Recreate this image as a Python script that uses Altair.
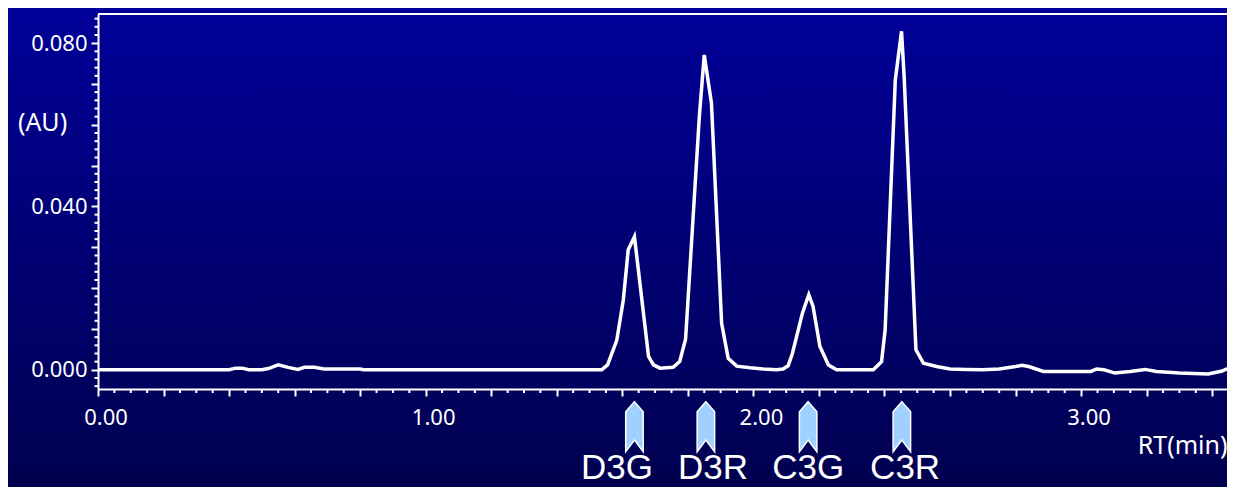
import altair as alt
import pandas as pd

# ---- data ----
rt = [0.00, 0.40, 0.42, 0.44, 0.46, 0.50, 0.52, 0.55, 0.58, 0.61, 0.63, 0.66, 0.69, 0.80, 0.81,
      1.537, 1.555, 1.583, 1.603, 1.618, 1.637, 1.680, 1.695, 1.715, 1.755, 1.775, 1.793,
      1.835, 1.850, 1.872, 1.903, 1.923, 1.949, 1.990, 2.030, 2.070, 2.090, 2.106, 2.119,
      2.150, 2.169, 2.182, 2.203, 2.229, 2.254, 2.366, 2.391, 2.402, 2.433, 2.452, 2.460,
      2.496, 2.519, 2.559, 2.600, 2.650, 2.700, 2.750, 2.800, 2.819, 2.840, 2.885, 3.030,
      3.047, 3.070, 3.103, 3.150, 3.195, 3.230, 3.300, 3.388, 3.430, 3.444, 3.470]
au = [0.0, 0.0, 0.0004, 0.0004, 0.0, 0.0, 0.0003, 0.0012, 0.0006, 0.0001, 0.0006, 0.0006, 0.0002, 0.0002, 0.0,
      0.0, 0.0012, 0.0072, 0.0171, 0.0294, 0.0326, 0.0033, 0.0012, 0.0004, 0.0006, 0.0020, 0.0075,
      0.0620, 0.0771, 0.0653, 0.0114, 0.0028, 0.0009, 0.0005, 0.0002, 0.0, 0.0002, 0.0010, 0.0040,
      0.0140, 0.0184, 0.0155, 0.0057, 0.0012, 0.0, 0.0, 0.0020, 0.0098, 0.0710, 0.0829, 0.0718,
      0.0049, 0.0016, 0.0008, 0.0002, 0.0001, 0.0, 0.0002, 0.0008, 0.0011, 0.0008, -0.0004, -0.0004,
      0.0002, 0.0, -0.0008, -0.0004, 0.0001, -0.0004, -0.0008, -0.0010, -0.0003, 0.0002, 0.0]

peak_names = ["D3G", "D3R", "C3G", "C3R"]
peak_rt = [1.637, 1.855, 2.167, 2.453]
label_rt = [1.584, 1.877, 2.167, 2.463]

x_domain = [0.0, 3.4452]
y_domain = [-0.0047, 0.08714]
x_major = [0.0, 0.2, 0.4, 0.6, 0.8, 1.0, 1.2, 1.4, 1.6, 1.8, 2.0, 2.2, 2.4, 2.6, 2.8, 3.0, 3.2, 3.4]
x_labels = [0.0, 1.0, 2.0, 3.0]
x_label_text = ["0.00", "1.00", "2.00", "3.00"]
x_minor = [i * 0.05 for i in range(69) if i % 4 != 0]
y_major = [0.0, 0.01, 0.02, 0.03, 0.04, 0.05, 0.06, 0.07, 0.08]
y_minor = [i * 0.002 for i in range(-2, 44) if i % 5 != 0]

W, H = 1129, 375
FONT = "Noto Sans"

curve = pd.DataFrame({"rt": rt, "au": au})
peaks = pd.DataFrame({"name": peak_names, "rt": peak_rt, "label_rt": label_rt})
xlab_df = pd.DataFrame({"t": x_labels, "txt": x_label_text})
xmin_df = pd.DataFrame({"t": x_minor})
ymin_df = pd.DataFrame({"v": y_minor})

xs = alt.Scale(domain=x_domain, nice=False, zero=False)
ys = alt.Scale(domain=y_domain, nice=False, zero=False)

grad = alt.LinearGradient(
    gradient="linear",
    stops=[alt.GradientStop(color="#000099", offset=0),
           alt.GradientStop(color="#00004c", offset=1)],
    x1=0, x2=0, y1=0, y2=1,
)

bg = alt.Chart(alt.Data(values=[{"a": 1}])).mark_rect(fill=grad, clip=False).encode(
    x=alt.value(-100), x2=alt.value(W + 20), y=alt.value(-10), y2=alt.value(H + 120)
)

line = alt.Chart(curve).mark_line(color="white", strokeWidth=3.5, clip=True).encode(
    x=alt.X("rt:Q", scale=xs, axis=alt.Axis(
        values=x_major, tickSize=7, tickWidth=2, tickColor="white",
        domainColor="white", domainWidth=2, labels=False,
        grid=False, zindex=1,
        title="RT(min)", titleColor="white", titleFont=FONT, titleFontSize=25,
        titleFontWeight="normal", titleAlign="right", titleBaseline="middle",
        titleX=W, titleY=56)),
    y=alt.Y("au:Q", scale=ys, axis=alt.Axis(
        values=y_major, tickSize=7, tickWidth=2, tickColor="white",
        domainColor="white", domainWidth=2, labelColor="white", labelFont=FONT,
        labelFontSize=22, labelPadding=4, labelOverlap=False,
        labelExpr="abs(datum.value * 25 - round(datum.value * 25)) < 1e-6 ? format(datum.value, '.3f') : ''",
        grid=False, zindex=1,
        title="(AU)", titleColor="white", titleFont=FONT, titleFontSize=25,
        titleFontWeight="normal", titleAngle=0, titleAlign="center", titleBaseline="middle",
        titleX=-56, titleY=108)),
)

xlabels = alt.Chart(xlab_df).mark_text(
    font=FONT, fontSize=22, color="white", baseline="alphabetic", align="center",
    dx=8, clip=False
).encode(x=alt.X("t:Q", scale=xs), y=alt.value(H + 35.7), text="txt:N")

yminor = alt.Chart(ymin_df).mark_rule(color="white", strokeWidth=2).encode(
    y=alt.Y("v:Q", scale=ys), x=alt.value(-3.5), x2=alt.value(0)
)
xminor = alt.Chart(xmin_df).mark_rule(color="white", strokeWidth=2).encode(
    x=alt.X("t:Q", scale=xs), y=alt.value(H), y2=alt.value(H + 4)
)
topline = alt.Chart(alt.Data(values=[{"a": 1}])).mark_rule(color="white", strokeWidth=2).encode(
    x=alt.value(0), x2=alt.value(W), y=alt.value(0)
)

arrow_path = "M0,-1 L0.35,-0.6 L0.35,1 L0,0.53 L-0.35,1 L-0.35,-0.6 Z"
arrows = alt.Chart(peaks).mark_point(
    shape=arrow_path, size=2500, filled=True, fill="#9fd0ff", stroke="white",
    strokeWidth=1.5, opacity=1, clip=False
).encode(x=alt.X("rt:Q", scale=xs), y=alt.value(H + 37.7))

labels = alt.Chart(peaks).mark_text(
    font="Liberation Sans", fontSize=35, color="white", baseline="alphabetic",
    align="center", clip=False
).encode(x=alt.X("label_rt:Q", scale=xs), y=alt.value(H + 90), text="name:N")

chart = alt.layer(bg, line, yminor, xminor, topline, xlabels, arrows, labels).properties(
    width=W, height=H,
    padding={"left": 90, "top": 6, "right": 0, "bottom": 98},
    autosize=alt.AutoSizeParams(type="none"),
).configure_view(stroke=None).configure(background="#00004c")

chart.save("out.html", embed_options={"renderer": "svg", "actions": False})
